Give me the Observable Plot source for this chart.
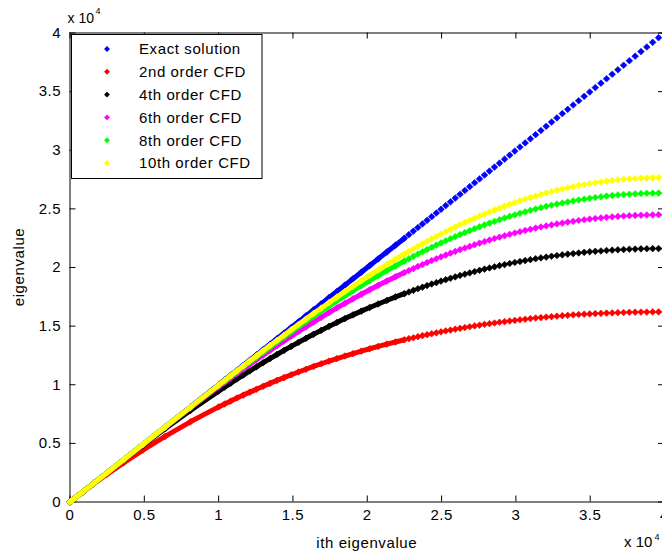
<!DOCTYPE html>
<html>
<head>
<meta charset="utf-8">
<script src="https://cdn.jsdelivr.net/npm/d3@7"></script>
<script src="https://cdn.jsdelivr.net/npm/@observablehq/plot@0.6"></script>
<style>
  html, body { margin: 0; padding: 0; background: #fff; }
  #chart svg { display: block; }
</style>
</head>
<body>
<div id="chart"></div>
<script>
// ---- data (values in units of 10^4) ----
const xs = [0,0.01,0.04,0.09,0.16,0.25,0.36,0.49,0.64,0.81,1,
1.0404,1.0816,1.1236,1.1664,1.21,1.2544,1.2996,1.3456,1.3924,1.44,1.4884,1.5376,1.5876,1.6384,1.69,1.7424,1.7956,1.8496,1.9044,1.96,2.0164,2.0736,2.1316,2.1904,2.25,
2.2801,2.3104,2.3409,2.3716,2.4025,2.4336,2.4649,2.4964,2.5281,2.56,2.5921,2.6244,2.6569,2.6896,2.7225,2.7556,2.7889,2.8224,2.8561,2.89,
2.9241,2.9584,2.9929,3.0276,3.0625,3.0976,3.1329,3.1684,3.2041,3.24,3.2761,3.3124,3.3489,3.3856,3.4225,3.4596,3.4969,3.5344,3.5721,3.61,
3.6481,3.6864,3.7249,3.7636,3.8025,3.8416,3.8809,3.9204,3.9601,4];

const exactSolution = [0,0.01,0.04,0.09,0.16,0.25,0.36,0.49,0.64,0.81,1,
1.0404,1.0816,1.1236,1.1664,1.21,1.2544,1.2996,1.3456,1.3924,1.44,1.4884,1.5376,1.5876,1.6384,1.69,1.7424,1.7956,1.8496,1.9044,1.96,2.0164,2.0736,2.1316,2.1904,2.25,
2.2801,2.3104,2.3409,2.3716,2.4025,2.4336,2.4649,2.4964,2.5281,2.56,2.5921,2.6244,2.6569,2.6896,2.7225,2.7556,2.7889,2.8224,2.8561,2.89,
2.9241,2.9584,2.9929,3.0276,3.0625,3.0976,3.1329,3.1684,3.2041,3.24,3.2761,3.3124,3.3489,3.3856,3.4225,3.4596,3.4969,3.5344,3.5721,3.61,
3.6481,3.6864,3.7249,3.7636,3.8025,3.8416,3.8809,3.9204,3.9601,4];

const order2 = [0,0.010,0.040,0.088,0.155,0.237,0.334,0.443,0.560,0.684,0.811,
0.836,0.861,0.887,0.912,0.937,0.962,0.987,1.012,1.037,1.061,1.085,1.109,1.132,1.156,1.179,1.201,1.223,1.245,1.266,1.287,1.307,1.327,1.347,1.365,1.384,
1.393,1.401,1.410,1.419,1.427,1.435,1.443,1.451,1.459,1.466,1.474,1.481,1.488,1.495,1.502,1.508,1.515,1.521,1.527,1.533,
1.538,1.544,1.549,1.554,1.559,1.564,1.569,1.573,1.577,1.581,1.585,1.589,1.592,1.596,1.599,1.602,1.604,1.607,1.609,1.611,
1.613,1.615,1.616,1.618,1.619,1.620,1.620,1.621,1.621,1.621];

const order4 = [0,0.010,0.040,0.090,0.160,0.249,0.357,0.483,0.625,0.780,0.946,
0.980,1.014,1.049,1.083,1.118,1.153,1.188,1.223,1.258,1.293,1.327,1.362,1.396,1.430,1.464,1.498,1.531,1.564,1.596,1.628,1.659,1.689,1.719,1.749,1.777,
1.791,1.805,1.819,1.832,1.846,1.859,1.871,1.884,1.896,1.908,1.920,1.932,1.943,1.954,1.965,1.976,1.986,1.996,2.006,2.016,
2.025,2.034,2.043,2.051,2.059,2.067,2.075,2.082,2.089,2.096,2.102,2.108,2.114,2.119,2.124,2.129,2.134,2.138,2.141,2.145,
2.148,2.151,2.153,2.156,2.157,2.159,2.160,2.161,2.161,2.162];

const order6 = [0,0.010,0.040,0.090,0.160,0.250,0.360,0.489,0.636,0.802,0.982,
1.019,1.057,1.096,1.135,1.174,1.213,1.253,1.293,1.333,1.373,1.414,1.454,1.494,1.535,1.575,1.615,1.655,1.694,1.733,1.772,1.810,1.848,1.885,1.921,1.957,
1.974,1.991,2.009,2.025,2.042,2.059,2.075,2.091,2.106,2.122,2.137,2.152,2.166,2.180,2.194,2.208,2.221,2.234,2.247,2.259,
2.271,2.283,2.294,2.305,2.316,2.326,2.336,2.346,2.355,2.363,2.372,2.379,2.387,2.394,2.401,2.407,2.413,2.418,2.423,2.428,
2.432,2.436,2.439,2.442,2.444,2.446,2.448,2.449,2.450,2.450];

const order8 = [0,0.010,0.040,0.090,0.160,0.250,0.360,0.490,0.639,0.807,0.993,
1.032,1.072,1.112,1.153,1.194,1.236,1.278,1.321,1.364,1.407,1.451,1.495,1.539,1.583,1.627,1.671,1.715,1.758,1.802,1.845,1.888,1.931,1.973,2.014,2.055,
2.075,2.095,2.115,2.134,2.153,2.172,2.191,2.210,2.228,2.246,2.263,2.281,2.298,2.314,2.331,2.347,2.363,2.378,2.393,2.408,
2.422,2.436,2.449,2.462,2.475,2.487,2.499,2.510,2.521,2.531,2.541,2.550,2.559,2.568,2.576,2.583,2.591,2.597,2.603,2.609,
2.614,2.618,2.622,2.625,2.628,2.631,2.633,2.634,2.635,2.635];

const order10 = [0,0.010,0.040,0.090,0.160,0.250,0.360,0.490,0.640,0.809,0.997,
1.037,1.078,1.119,1.161,1.203,1.246,1.290,1.334,1.378,1.423,1.469,1.514,1.560,1.607,1.653,1.700,1.747,1.794,1.840,1.887,1.933,1.979,2.025,2.070,2.115,
2.137,2.159,2.180,2.202,2.223,2.244,2.265,2.285,2.306,2.325,2.345,2.365,2.384,2.402,2.421,2.439,2.456,2.474,2.491,2.507,
2.523,2.539,2.554,2.569,2.583,2.597,2.610,2.623,2.636,2.647,2.659,2.670,2.680,2.690,2.699,2.707,2.716,2.723,2.730,2.736,
2.742,2.747,2.752,2.756,2.759,2.762,2.764,2.766,2.766,2.767];

const seriesNames = ["Exact solution","2nd order CFD","4th order CFD","6th order CFD","8th order CFD","10th order CFD"];
const seriesColors = ["#0000ff","#ff0000","#000000","#ff00ff","#00ff00","#ffff00"];
const seriesValues = [exactSolution, order2, order4, order6, order8, order10];

const xTicks = [0,0.5,1,1.5,2,2.5,3,3.5,4];
const yTicks = [0,0.5,1,1.5,2,2.5,3,3.5,4];
const xLabel = "ith eigenvalue";
const yLabel = "eigenvalue";
const expLabel = "x 10";
const expPower = "4";

// ---- layout ----
const W = 662, H = 554;
const mL = 69.5, mR = -2, mT = 32.5, mB = 52.5;
const plotW = W - mL - mR, plotH = H - mT - mB;
const tick = 6;
const FONT = "'Liberation Sans', Arial, Helvetica, sans-serif";

const marks = [
  Plot.frame({stroke: "#000", strokeWidth: 1}),
  Plot.ruleX(xTicks, {x: d => d, insetTop: plotH - tick, stroke: "#000"}),
  Plot.ruleX(xTicks, {x: d => d, insetBottom: plotH - tick, stroke: "#000"}),
  Plot.ruleY(yTicks, {y: d => d, insetRight: plotW - tick, stroke: "#000"}),
  Plot.ruleY(yTicks, {y: d => d, insetLeft: plotW - tick, stroke: "#000"}),
  Plot.axisX(xTicks, {tickSize: 0, tickPadding: 7.5, label: null, tickFormat: d => String(d), fontSize: 15}),
  Plot.axisY(yTicks, {tickSize: 0, tickPadding: 9, label: null, tickFormat: d => String(d), fontSize: 15})
];

seriesValues.forEach((vals, si) => {
  const rows = xs.map((x, i) => ({x, y: vals[i]}));
  marks.push(Plot.line(rows.filter(d => d.x <= 2.25), {x: "x", y: "y", stroke: seriesColors[si], strokeWidth: 5, strokeLinecap: "round", strokeLinejoin: "round"}));
  marks.push(Plot.dot(rows, {x: "x", y: "y", symbol: "diamond2", r: 3, fill: seriesColors[si], stroke: seriesColors[si], strokeWidth: 0.6}));
});

const svg = Plot.plot({
  width: W, height: H,
  marginLeft: mL, marginRight: mR, marginTop: mT, marginBottom: mB,
  x: {domain: [0, 4]},
  y: {domain: [0, 4]},
  style: {fontFamily: FONT, fontSize: "15px", background: "#fff", color: "#000", letterSpacing: "0.5px", overflow: "hidden"},
  marks
});

const s = d3.select(svg);
const g = s.append("g").attr("font-family", FONT).attr("fill", "#000")
  .attr("text-anchor", "start").style("letter-spacing", "0.6px");

// exponent labels
g.append("text").attr("text-anchor", "start").style("letter-spacing", "0px").attr("x", 67.5).attr("y", 23.3).attr("font-size", 14).text(expLabel);
g.append("text").attr("text-anchor", "start").style("letter-spacing", "0px").attr("x", 95.5).attr("y", 14).attr("font-size", 9).text(expPower);
g.append("text").attr("text-anchor", "start").style("letter-spacing", "0px").attr("x", 624).attr("y", 547.3).attr("font-size", 15).text(expLabel);
g.append("text").attr("text-anchor", "start").style("letter-spacing", "0px").attr("x", 654.5).attr("y", 540).attr("font-size", 9).text(expPower);

// axis labels
g.append("text").attr("x", mL + plotW / 2).attr("y", 547.5).attr("text-anchor", "middle").attr("font-size", 15).text(xLabel);
g.append("text").attr("transform", `translate(24,${mT + plotH / 2}) rotate(-90)`).attr("text-anchor", "middle").attr("font-size", 15).text(yLabel);

// legend
const lg = g.append("g");
lg.append("rect").attr("x", 71.5).attr("y", 34.5).attr("width", 190.5).attr("height", 144)
  .attr("fill", "#fff").attr("stroke", "#000").attr("stroke-width", 1);
seriesNames.forEach((name, i) => {
  const cy = 49 + i * 22.8;
  lg.append("path").attr("d", d3.symbol(d3.symbolDiamond2, 22)()).attr("transform", `translate(107,${cy})`)
    .attr("fill", seriesColors[i]);
  lg.append("text").attr("text-anchor", "start").attr("x", 139).attr("y", cy + 5.4).attr("font-size", 15).text(name);
});

document.getElementById("chart").appendChild(svg);
</script>
</body>
</html>
